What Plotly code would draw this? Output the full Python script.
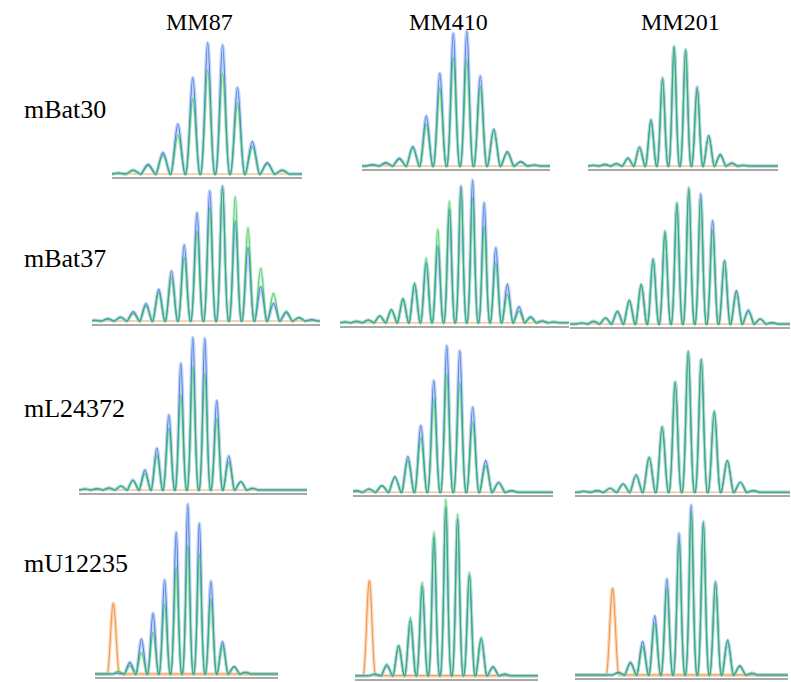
import plotly.graph_objects as go

# ---------------- data ----------------
columns = ["MM87", "MM410", "MM201"]
rows = ["mBat30", "mBat37", "mL24372", "mU12235"]

# peak heights (relative fluorescence, arbitrary units) per marker / sample
mBat30_MM87_blue = [3, 12, 29, 64, 150, 289, 394, 387, 259, 97, 34, 12]
mBat30_MM87_green = [2, 10, 25, 57, 117, 227, 312, 302, 212, 82, 30, 10]
mBat30_MM410_blue = [4, 10, 23, 58, 150, 278, 398, 404, 270, 110, 43, 13, 3]
mBat30_MM410_green = [3, 8, 20, 55, 125, 235, 325, 318, 238, 108, 40, 12, 3]
mBat30_MM201_blue = [2, 5, 7, 24, 57, 139, 264, 357, 347, 237, 91, 35, 9, 2]
mBat30_MM201_green = [2, 4, 7, 22, 55, 135, 262, 360, 350, 232, 90, 32, 8, 2]

mBat37_MM87_blue = [2, 7, 12, 28, 52, 95, 150, 228, 325, 390, 405, 300, 220, 103, 53, 25, 10, 4]
mBat37_MM87_green = [2, 6, 10, 22, 45, 85, 130, 190, 270, 340, 400, 373, 280, 158, 83, 30, 10, 3]
mBat37_MM410_blue = [2, 4, 8, 20, 38, 70, 115, 180, 230, 340, 410, 428, 360, 225, 115, 48, 18, 5, 2]
mBat37_MM410_green = [2, 4, 8, 20, 40, 73, 120, 195, 280, 365, 405, 375, 290, 180, 85, 35, 15, 5, 2]
mBat37_MM201_blue = [3, 8, 18, 38, 70, 118, 195, 275, 360, 405, 390, 310, 190, 100, 42, 15, 4]
mBat37_MM201_green = [3, 8, 18, 38, 72, 120, 195, 280, 365, 410, 375, 280, 190, 95, 38, 15, 4]

mL24372_MM87_blue = [3, 4, 6, 12, 30, 60, 125, 225, 380, 458, 455, 268, 102, 25, 5]
mL24372_MM87_green = [3, 4, 6, 12, 28, 50, 105, 185, 285, 370, 350, 215, 85, 25, 5]
mL24372_MM410_blue = [5, 10, 20, 47, 107, 200, 335, 440, 425, 255, 95, 30, 5]
mL24372_MM410_green = [5, 10, 20, 45, 95, 165, 280, 355, 330, 210, 80, 28, 5]
mL24372_MM201_blue = [3, 5, 12, 25, 52, 105, 195, 330, 420, 398, 240, 95, 30, 5]
mL24372_MM201_green = [3, 5, 12, 25, 52, 105, 198, 332, 425, 400, 245, 95, 30, 5]

mU12235_MM87_blue = [3, 35, 105, 182, 282, 425, 510, 452, 278, 97, 22, 5]
mU12235_MM87_green = [8, 25, 65, 125, 210, 320, 385, 360, 225, 85, 22, 5]
mU12235_MM410_blue = [4, 30, 88, 165, 268, 415, 505, 470, 300, 110, 25, 4]
mU12235_MM410_green = [5, 35, 92, 175, 280, 432, 530, 485, 310, 115, 28, 5]
mU12235_MM201_blue = [8, 38, 100, 178, 288, 425, 510, 460, 280, 105, 28, 5]
mU12235_MM201_green = [6, 35, 85, 155, 260, 405, 490, 455, 275, 100, 25, 5]

# size-standard (orange) peak in mU12235 panels: position (in repeat units) and height
ladder_pos = [-0.43, -0.48, -0.47]
ladder_height = [212, 285, 260]

blue = [
    [mBat30_MM87_blue, mBat30_MM410_blue, mBat30_MM201_blue],
    [mBat37_MM87_blue, mBat37_MM410_blue, mBat37_MM201_blue],
    [mL24372_MM87_blue, mL24372_MM410_blue, mL24372_MM201_blue],
    [mU12235_MM87_blue, mU12235_MM410_blue, mU12235_MM201_blue],
]
green = [
    [mBat30_MM87_green, mBat30_MM410_green, mBat30_MM201_green],
    [mBat37_MM87_green, mBat37_MM410_green, mBat37_MM201_green],
    [mL24372_MM87_green, mL24372_MM410_green, mL24372_MM201_green],
    [mU12235_MM87_green, mU12235_MM410_green, mU12235_MM201_green],
]

# ---------------- layout geometry (pixels) ----------------
W, H = 791, 682
# (left, right, baseline, first peak x, peak spacing)
geom = [
    [(112, 302, 174, 118.3, 14.9), (362, 550, 166, 372.3, 13.5), (588, 778, 166, 593.3, 11.54)],
    [(92, 320, 321, 95.0, 12.75), (340, 569, 322.7, 345.0, 11.6), (570, 790, 324, 581.7, 11.9)],
    [(79, 307, 490, 85.0, 11.98), (353, 553, 492.3, 356.0, 12.97), (575, 790, 492.3, 584.0, 13.03)],
    [(95, 278, 674, 118.3, 11.58), (355, 538, 675.7, 375.0, 11.8), (575, 788, 675, 618.3, 12.15)],
]
panel_height = [150, 165, 165, 185]
col_title_x = [200, 448, 680]
row_label_y = [110, 258, 408, 563]

BLUE_HALO = "rgba(145,175,240,0.55)"
BLUE_CORE = "#5080e2"
GREEN_HALO = "rgba(150,232,165,0.55)"
GREEN_CORE = "rgba(45,190,75,0.72)"
ORANGE_BASE = "#f6c594"
ORANGE_CORE = "#f3943f"
ORANGE_HALO = "rgba(248,190,140,0.6)"
GRAY = "#a9a9a9"

HALF = 0.47
PAD = 0.05
LADDER_HALF = 0.52


def peak_path(heights, x0, x1):
    n = len(heights)
    xs, ys = [x0, -HALF - PAD], [0, 0]
    for i, h in enumerate(heights):
        xs += [i - HALF, i, i + HALF]
        ys += [0, h, 0]
    xs += [n - 1 + HALF + PAD, x1]
    ys += [0, 0]
    return xs, ys


fig = go.Figure()
layout = dict(
    width=W, height=H, margin=dict(l=0, r=0, t=0, b=0),
    paper_bgcolor="white", plot_bgcolor="rgba(0,0,0,0)", showlegend=False,
)

k = 0
for r in range(4):
    for c in range(3):
        k += 1
        left, right, base, p0, sp = geom[r][c]
        ph = panel_height[r]
        x0 = (left - p0) / sp
        x1 = (right - p0) / sp
        xa = "x" if k == 1 else f"x{k}"
        ya = "y" if k == 1 else f"y{k}"
        xkey = "xaxis" if k == 1 else f"xaxis{k}"
        ykey = "yaxis" if k == 1 else f"yaxis{k}"
        top_px = base - ph
        bot_px = base + 3
        layout[xkey] = dict(
            domain=[left / W, right / W], range=[x0, x1], anchor=ya,
            showgrid=False, zeroline=False, showticklabels=False, ticks="",
            showline=True, linecolor=GRAY, linewidth=1.6, fixedrange=True,
        )
        layout[ykey] = dict(
            domain=[1 - bot_px / H, 1 - top_px / H], range=[-9, ph * 3], anchor=xa,
            visible=False, fixedrange=True,
        )
        # orange baseline / size standard
        if r == 3:
            lp, lh = ladder_pos[c], ladder_height[c]
            ox = [x0, lp - LADDER_HALF - PAD, lp - LADDER_HALF, lp,
                  lp + LADDER_HALF, lp + LADDER_HALF + PAD, x1]
            oy = [0, 0, 0, lh, 0, 0, 0]
            fig.add_trace(go.Scatter(x=ox, y=oy, xaxis=xa, yaxis=ya, mode="lines",
                                     line=dict(color=ORANGE_HALO, width=3.5, shape="spline"),
                                     hoverinfo="skip"))
            fig.add_trace(go.Scatter(x=ox, y=oy, xaxis=xa, yaxis=ya, mode="lines",
                                     line=dict(color=ORANGE_CORE, width=1.0, shape="spline"),
                                     hoverinfo="skip"))
        else:
            fig.add_trace(go.Scatter(x=[x0, x1], y=[0, 0], xaxis=xa, yaxis=ya, mode="lines",
                                     line=dict(color=ORANGE_BASE, width=1.6), hoverinfo="skip"))
        bx, by = peak_path(blue[r][c], x0, x1)
        gx, gy = peak_path(green[r][c], x0, x1)
        fig.add_trace(go.Scatter(x=bx, y=by, xaxis=xa, yaxis=ya, mode="lines",
                                 line=dict(color=BLUE_HALO, width=3.5, shape="spline"),
                                 hoverinfo="skip"))
        fig.add_trace(go.Scatter(x=gx, y=gy, xaxis=xa, yaxis=ya, mode="lines",
                                 line=dict(color=GREEN_HALO, width=3.0, shape="spline"),
                                 hoverinfo="skip"))
        fig.add_trace(go.Scatter(x=bx, y=by, xaxis=xa, yaxis=ya, mode="lines",
                                 line=dict(color=BLUE_CORE, width=1.1, shape="spline"),
                                 hoverinfo="skip"))
        fig.add_trace(go.Scatter(x=gx, y=gy, xaxis=xa, yaxis=ya, mode="lines",
                                 line=dict(color=GREEN_CORE, width=1.1, shape="spline"),
                                 hoverinfo="skip"))

annotations = []
FONT = "Liberation Serif, Times New Roman, serif"
for c, name in enumerate(columns):
    annotations.append(dict(text=name, x=col_title_x[c] / W, y=1 - 22 / H, xref="paper", yref="paper",
                            xanchor="center", yanchor="middle", showarrow=False,
                            font=dict(family=FONT, size=24, color="black")))
for r, name in enumerate(rows):
    annotations.append(dict(text=name, x=22 / W, y=1 - row_label_y[r] / H, xref="paper", yref="paper",
                            xanchor="left", yanchor="middle", showarrow=False,
                            font=dict(family=FONT, size=26, color="black")))
layout["annotations"] = annotations
fig.update_layout(**layout)
fig.write_html("out.html")
